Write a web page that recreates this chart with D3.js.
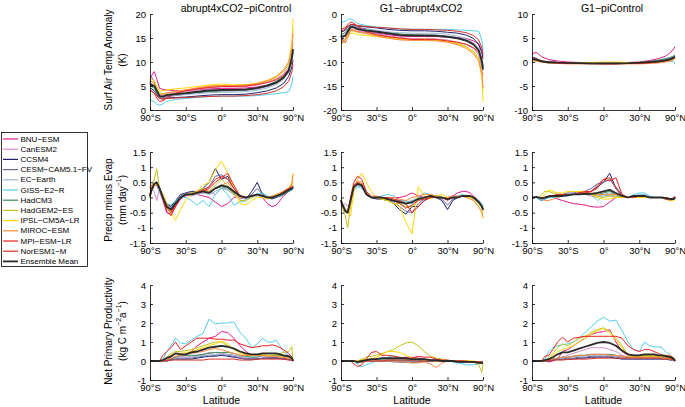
<!DOCTYPE html>
<html><head><meta charset="utf-8">
<script src="https://cdn.jsdelivr.net/npm/d3@7"></script>
<style>body{margin:0;background:#fff}svg text{font-family:"Liberation Sans",Arial,Helvetica,sans-serif;fill:#000}</style>
</head><body><svg id="c" width="685" height="407"></svg>
<script>
const models = ["BNU\u2212ESM","CanESM2","CCSM4","CESM\u2212CAM5.1\u2212FV","EC\u2212Earth","GISS\u2212E2\u2212R","HadCM3","HadGEM2\u2212ES","IPSL\u2212CM5A\u2212LR","MIROC\u2212ESM","MPI\u2212ESM\u2212LR","NorESM1\u2212M","Ensemble Mean"];
const colors = ["#e6198a","#d58ac8","#1f1f6e","#6a6aa8","#9ab8cc","#50d0e8","#3a8a5a","#c4c21a","#ffd800","#ff8a40","#ee2020","#d8302a","#2a2a2a"];
const titles = ["abrupt4xCO2\u2212piControl","G1\u2212abrupt4xCO2","G1\u2212piControl"];
const xTickLats = [-90,-30,0,30,90];
const xTickLabels = ["90\u00b0S","30\u00b0S","0\u00b0","30\u00b0N","90\u00b0N"];
const latT = [-90,-80,-70,-65,-60,-55,-50,-40,-30,-20,-10,0,10,20,30,40,50,60,70,80,90];
const latP = [-90,-80,-70,-65,-60,-55,-50,-45,-40,-35,-30,-25,-20,-15,-10,-5,0,5,10,15,20,25,30,35,40,45,50,55,60,70,80,90];

// Surface air temperature anomaly (K)
const tasA = [
[6.5,7,8,6.5,4.5,4.3,4.2,4.0,4.0,4.2,4.4,4.5,4.5,4.6,4.8,5.2,5.8,6.8,8.2,10.5,12],
[5.5,5.5,5,4,3,3,3.3,3.5,3.8,4.2,4.6,4.8,4.8,4.9,5.2,5.8,6.5,7.5,9,12,14],
[4.5,4.5,4,3.2,2.4,2.3,2.5,2.6,2.7,2.9,3.1,3.2,3.2,3.3,3.6,4.0,4.6,5.5,7,9,10.5],
[5.5,7,6,4,2.6,2.5,2.8,3.0,3.3,3.6,3.8,4.0,4.0,4.1,4.4,4.9,5.6,6.6,8,10.5,12],
[5.5,5.5,5,4,3,2.8,3,3.1,3.2,3.4,3.6,3.7,3.7,3.8,4.1,4.6,5.3,6.3,7.8,10,11.5],
[2.2,2,1.7,1.2,1.0,1.3,1.8,2.2,2.4,2.6,2.8,2.9,2.9,2.9,3.0,3.2,3.4,3.6,3.8,5.5,7],
[5,5,4.5,3.6,2.8,2.8,3.1,3.3,3.5,3.7,3.9,4.0,4.1,4.2,4.6,5.2,6,7,8.5,11,12.5],
[6,6,5.5,4.5,3.5,3.4,3.6,3.8,4.1,4.5,4.9,5.1,5.1,5.2,5.5,6,6.8,8,9.5,13,17],
[6.5,6.5,6,5,4,4,4.2,4.4,4.6,4.9,5.2,5.4,5.2,5.3,5.6,6.2,7,8.2,10,14,19],
[6,6,5.5,4.2,3.2,3.2,3.5,3.8,4.2,4.6,5.0,5.1,5.1,5.2,5.5,6.1,7,8.3,10,13,16],
[4,4,3.5,2.5,1.8,1.9,2.5,3.5,4.0,4.4,4.7,4.9,4.9,5.0,5.3,5.7,6.3,7.2,8.5,10,10],
[4,4,3.5,3,2.4,2.3,2.4,2.5,2.6,2.7,2.8,2.9,2.9,3.0,3.2,3.5,4.0,4.8,6,8,9.5],
[5.1,5.3,5.0,4.1,2.9,2.8,3.1,3.3,3.5,3.8,4.1,4.2,4.2,4.3,4.6,5.1,5.7,6.7,8.2,10.9,12.7]];
const tasG = [
[-5,-5.2,-6,-4.9,-3.4,-3.5,-3.7,-3.8,-4,-4.3,-4.6,-4.7,-4.7,-4.7,-4.8,-4.9,-5.1,-5.6,-6.2,-7.7,-8.8],
[-4.9,-4.9,-4.5,-3.7,-2.9,-3,-3.4,-3.7,-4.1,-4.5,-4.9,-5.1,-5.1,-5.2,-5.4,-5.9,-6.4,-7.2,-8.5,-11.2,-13],
[-3.7,-3.7,-3.4,-2.8,-2.2,-2.2,-2.5,-2.7,-2.9,-3.2,-3.4,-3.5,-3.5,-3.6,-3.8,-4.0,-4.4,-5.1,-6.4,-8.1,-9.4],
[-4.5,-6,-5.2,-3.5,-2.3,-2.4,-2.8,-3.1,-3.5,-3.9,-4.2,-4.4,-4.4,-4.4,-4.6,-4.9,-5.4,-6.1,-7.2,-9.4,-10.7],
[-5,-5,-4.6,-3.7,-2.9,-2.8,-3.1,-3.3,-3.4,-3.7,-3.9,-4,-4,-4,-4.2,-4.6,-5.2,-6,-7.3,-9.3,-10.7],
[-1.9,-1.7,-1.5,-1.1,-1,-1.4,-2,-2.4,-2.7,-2.9,-3.1,-3.2,-3.2,-3.2,-3.2,-3.3,-3.4,-3.5,-3.6,-5.5,-7.5],
[-4.2,-4.2,-3.9,-3.2,-2.6,-2.7,-3.1,-3.4,-3.7,-3.9,-4.2,-4.3,-4.4,-4.4,-4.7,-5.1,-5.6,-6.3,-7.5,-9.7,-11],
[-5.6,-5.6,-5.2,-4.3,-3.5,-3.5,-3.8,-4,-4.4,-4.8,-5.2,-5.4,-5.4,-5.5,-5.7,-6.1,-6.8,-7.8,-9.1,-12.3,-16.1],
[-6.3,-6.2,-5.8,-4.9,-4,-4,-4.3,-4.5,-4.7,-5,-5.3,-5.4,-5.2,-5.4,-5.7,-6.2,-6.9,-8,-9.6,-13.4,-18.2],
[-5.7,-5.7,-5.3,-4.1,-3.2,-3.3,-3.7,-4.1,-4.6,-5,-5.4,-5.5,-5.5,-5.6,-5.9,-6.4,-7.2,-8.3,-9.8,-12.5,-15.3],
[-3.5,-3.5,-3.1,-2.2,-1.7,-1.9,-2.6,-3.7,-4.3,-4.7,-5,-5.3,-5.3,-5.3,-5.6,-5.9,-6.3,-7,-8,-9.2,-9],
[-3.1,-3.1,-2.8,-2.6,-2.2,-2.2,-2.4,-2.6,-2.8,-2.9,-3.1,-3.2,-3.2,-3.3,-3.4,-3.6,-3.9,-4.5,-5.4,-7.1,-8.4],
[-4.5,-4.7,-4.5,-3.7,-2.75,-2.75,-3.15,-3.45,-3.7,-4.05,-4.4,-4.5,-4.5,-4.55,-4.75,-5.1,-5.55,-6.35,-7.6,-10,-11.6]];
const tasP = [
[1.5,1.8,2,1.6,1.1,0.8,0.5,0.2,0,-0.1,-0.2,-0.2,-0.2,-0.1,0,0.3,0.7,1.2,2,2.8,3.2],
[0.6,0.6,0.5,0.3,0.1,0,-0.1,-0.2,-0.3,-0.3,-0.3,-0.3,-0.3,-0.3,-0.2,-0.1,0.1,0.3,0.5,0.8,1.0],
[0.8,0.8,0.6,0.4,0.2,0.1,0,-0.1,-0.2,-0.3,-0.3,-0.3,-0.3,-0.3,-0.2,0,0.2,0.4,0.6,0.9,1.1],
[1.0,1.0,0.8,0.5,0.3,0.1,0,-0.1,-0.2,-0.3,-0.4,-0.4,-0.4,-0.3,-0.2,0,0.2,0.5,0.8,1.1,1.3],
[0.5,0.5,0.4,0.3,0.1,0,-0.1,-0.2,-0.2,-0.3,-0.3,-0.3,-0.3,-0.2,-0.1,0,0.1,0.3,0.5,0.7,0.8],
[0.3,0.3,0.2,0.1,0,-0.1,-0.2,-0.2,-0.3,-0.3,-0.3,-0.3,-0.3,-0.3,-0.2,-0.1,0,0.1,0.2,0,-0.5],
[0.8,0.8,0.6,0.4,0.2,0.1,0,-0.1,-0.2,-0.2,-0.3,-0.3,-0.3,-0.2,-0.1,0.1,0.4,0.7,1.0,1.3,1.5],
[0.4,0.4,0.3,0.2,0,-0.1,-0.2,-0.2,-0.3,-0.3,-0.3,-0.3,-0.3,-0.3,-0.2,-0.1,0,0.2,0.4,0.7,0.9],
[0.2,0.3,0.2,0.1,0,0,-0.1,-0.1,-0.1,-0.1,-0.1,0,0,-0.1,-0.1,0,0.1,0.2,0.4,0.6,0.8],
[0.3,0.3,0.2,0.1,0,-0.1,-0.2,-0.3,-0.4,-0.4,-0.4,-0.4,-0.4,-0.4,-0.4,-0.3,-0.2,0,0.2,0.5,0.7],
[0.5,0.5,0.4,0.3,0.1,0,-0.1,-0.2,-0.3,-0.3,-0.3,-0.4,-0.4,-0.3,-0.3,-0.2,0,0.2,0.5,0.8,1.0],
[0.9,0.9,0.7,0.4,0.2,0.1,0,-0.1,-0.2,-0.2,-0.3,-0.3,-0.3,-0.3,-0.2,-0.1,0.1,0.3,0.6,0.9,1.1],
[0.6,0.6,0.5,0.35,0.15,0.05,-0.05,-0.15,-0.2,-0.25,-0.3,-0.3,-0.3,-0.25,-0.15,0,0.15,0.35,0.6,0.9,1.1]];

// Precipitation minus evaporation (mm/day)
const peA = [
[0.3,0.4,0.45,0.4,0.2,-0.1,-0.5,-0.55,-0.3,-0.05,0.05,0.1,0.1,0.05,0,-0.15,-0.3,-0.2,0,0.05,0,0.05,0.1,0,-0.2,-0.3,-0.25,-0.1,0.05,0.2,0.3,0.35],
[0.1,0.3,0.2,-0.1,0.3,0.1,-0.2,-0.4,-0.2,0,0.1,0.05,0.1,0.15,0.2,0.1,0.3,0.25,0.1,-0.05,0,0.05,0.1,0.05,0,0,0.05,0.1,0.1,0.2,0.3,0.3],
[0,0.2,0.45,0.5,0.3,0.05,-0.2,-0.3,-0.1,0.1,0.15,0.2,0.2,0.3,0.5,0.95,0.6,0.7,0.3,0,-0.05,0.2,0.5,0.1,0,-0.05,0,0.05,0.1,0.2,0.25,0.3],
[0,0.2,0.4,0.45,0.3,0,-0.25,-0.35,-0.15,0.05,0.15,0.15,0.2,0.25,0.35,0.7,0.75,0.6,0.3,0.05,0,0.1,0.3,0.1,0,0,0.05,0.05,0.1,0.2,0.3,0.35],
[0.1,0.2,0.4,0.45,0.25,0,-0.3,-0.35,-0.15,0,0.1,0.1,0.1,0.15,0.1,0.2,0.3,0.25,0.1,0,-0.05,0,0.05,0.05,0,0,0.05,0.1,0.15,0.25,0.3,0.3],
[0.1,0.3,0.4,0.45,0.2,-0.05,-0.2,-0.25,-0.1,0,0,-0.1,-0.25,-0.1,-0.3,0.1,0.3,0.1,-0.25,-0.15,-0.1,0.05,0.1,0.15,0.05,0,0.05,0.1,0.15,0.2,0.25,0.3],
[0,0.2,0.45,0.5,0.3,0,-0.3,-0.4,-0.15,0,0.1,0.1,0.15,0.2,0.15,0.3,0.35,0.3,0.15,0.05,0,0.05,0.1,0.05,0,0,0.05,0.05,0.1,0.2,0.3,0.35],
[0.1,0.3,0.6,0.95,0.3,0,-0.35,-0.5,-0.2,0,0.1,0.15,0.2,0.3,0.2,0.4,0.6,0.4,0.1,-0.1,-0.1,0,0.1,0.05,0,0,0.05,0.1,0.2,0.3,0.4,0.5],
[0,0.2,0.4,0.45,0.3,0.1,-0.2,-0.5,-0.75,-0.4,-0.1,0.1,0.2,0.4,0.5,0.9,1.2,0.8,0.3,-0.2,-0.25,-0.1,0,0,-0.05,0,0.1,0.15,0.2,0.3,0.5,0.8],
[0.05,0.25,0.4,0.45,0.3,0,-0.3,-0.45,-0.25,0,0.1,0.1,0.2,0.25,0.2,0.3,0.4,0.5,0.2,0,0,0.05,0.1,0.05,0,0.05,0.1,0.15,0.2,0.3,0.45,0.75],
[0.1,0.3,0.45,0.5,0.3,-0.05,-0.45,-0.6,-0.3,0,0.1,0.1,0.15,0.2,0.3,0.5,0.65,0.8,0.4,0.05,0,0.05,0.1,0.05,0,0,0.05,0.1,0.2,0.3,0.35,0.4],
[0.05,0.2,0.45,0.5,0.3,0,-0.35,-0.5,-0.25,0,0.1,0.1,0.15,0.25,0.35,0.6,0.7,0.6,0.3,0.05,0,0.05,0.1,0.05,0,0,0.05,0.1,0.15,0.25,0.3,0.35],
[0.05,0.2,0.45,0.5,0.3,0,-0.3,-0.4,-0.2,0,0.1,0.1,0.15,0.2,0.15,0.3,0.4,0.35,0.2,0.05,0,0.05,0.1,0.05,0,0,0.05,0.1,0.15,0.25,0.3,0.35]];
const peG = [
[-0.2,-0.3,-0.4,-0.5,-0.1,0.3,0.5,0.45,0.15,0,0,0,0,0,0,0.05,0.15,0.05,0,0.05,0.05,0,0,0.05,0.15,0.2,0.2,0.15,0.05,-0.1,-0.3,-0.35],
[-0.1,-0.3,-0.2,-0.3,-0.2,0.3,0.4,0.35,0.1,0,0,0,-0.05,-0.1,-0.15,-0.1,-0.2,-0.05,0,0.05,0,0,-0.05,0,0,0.05,0.05,0.05,0,-0.1,-0.3,-0.4],
[-0.1,-0.2,-0.45,-0.5,-0.1,0.35,0.45,0.4,0.1,0,-0.05,-0.05,-0.1,-0.2,-0.4,-0.55,-0.3,-0.3,-0.1,0,0,-0.1,-0.4,-0.1,0,0.05,0.05,0.05,0,-0.15,-0.3,-0.4],
[-0.1,-0.2,-0.4,-0.45,-0.1,0.3,0.45,0.4,0.1,0,0,-0.05,-0.1,-0.15,-0.3,-0.45,-0.5,-0.2,-0.05,0,0,-0.05,-0.25,-0.05,0,0.05,0.05,0.05,0,-0.15,-0.3,-0.4],
[-0.1,-0.15,-0.4,-0.45,-0.1,0.3,0.4,0.35,0.1,0,0,0,-0.05,-0.1,-0.1,-0.15,-0.1,0,0,0.05,0,0,0,0,0,0.05,0.05,0.05,0,-0.1,-0.25,-0.35],
[-0.1,-0.2,-0.4,-0.45,-0.1,0.25,0.35,0.3,0.1,0,0,0.05,0.1,0.05,-0.1,-0.1,-0.2,0,0.15,0.1,0.05,0,0,0,0.05,0.1,0.05,0.05,0,-0.1,-0.2,-0.3],
[-0.1,-0.2,-0.45,-0.5,-0.1,0.35,0.45,0.4,0.1,0,0,0,-0.05,-0.1,-0.15,-0.2,-0.15,-0.05,0,0.05,0,0,-0.05,0,0,0.05,0.05,0.05,0,-0.15,-0.3,-0.4],
[-0.1,-0.3,-0.6,-1.0,-0.3,0.3,0.5,0.45,0.15,0,0,-0.05,-0.1,-0.2,-0.2,-0.3,-0.3,-0.1,0,0.05,0.05,0,-0.05,0,0,0.05,0.05,0,-0.05,-0.2,-0.35,-0.5],
[-0.05,-0.2,-0.4,-0.45,-0.6,0.2,0.6,0.8,0.5,0.2,0,-0.05,-0.1,-0.2,-0.3,-0.8,-1.2,0.35,0.05,-0.05,0.05,0.1,0,0,0,0.05,0,0,-0.1,-0.3,-0.5,-0.7],
[-0.1,-0.25,-0.4,-0.45,-0.1,0.4,0.55,0.5,0.2,0.05,0.05,0,0,0,-0.05,-0.1,0,0.05,0.1,0.1,0.05,0,0,0.05,0.05,0.05,0,-0.05,-0.1,-0.3,-0.5,-0.65],
[-0.1,-0.25,-0.45,-0.5,0,0.5,0.7,0.6,0.2,0,0,0,0,-0.05,-0.1,-0.2,-0.5,-0.3,-0.1,0,0,0,-0.05,0,0,0.05,0.05,0.05,0,-0.15,-0.3,-0.4],
[-0.1,-0.2,-0.45,-0.5,-0.1,0.4,0.5,0.4,0.1,0,0,0,-0.05,-0.1,-0.2,-0.35,-0.25,-0.1,-0.05,0,0,0,-0.1,0,0,0.05,0.05,0.05,0,-0.15,-0.3,-0.4],
[-0.1,-0.2,-0.45,-0.5,-0.1,0.35,0.45,0.4,0.1,0,0,0,-0.05,-0.1,-0.15,-0.2,-0.15,-0.05,0,0.05,0,0,-0.05,0,0,0.05,0.05,0.05,0,-0.15,-0.3,-0.4]];
const peP = [
[0,0,0,0,0,0,0,0,-0.05,-0.1,-0.15,-0.2,-0.22,-0.25,-0.3,-0.32,-0.3,-0.15,0,0.05,0,0,0,0,0,0,0,0,0,-0.05,0,0.05],
[0,0,0,0,0,0,0.05,0.05,0.05,0.05,0.05,0.1,0.1,0.1,0.05,0,0.1,0.05,0,0,0,0,0,0.05,0,0,0,0,0,-0.05,-0.05,0],
[0,0,0,-0.05,-0.1,-0.05,0,0.05,0.1,0.1,0.1,0.1,0.15,0.15,0.2,0.35,0.5,0.8,0.3,0.05,0,0,0.05,0.05,0,0,0,0,-0.05,-0.05,-0.05,0],
[0,0,0,0,-0.05,0,0.05,0.05,0.1,0.1,0.15,0.15,0.2,0.2,0.3,0.45,0.5,0.6,0.35,0.1,0,0,0.05,0.05,0,0,0,0,-0.05,-0.05,-0.05,0],
[0,0,0,0,0,0,0,0.05,0.05,0.05,0.05,0.1,0.1,0.1,0.1,0.05,0.1,0.15,0.1,0,0,0.05,0.1,0.1,0.05,0,0,0,0,-0.05,-0.05,0],
[0,0,0,-0.05,-0.1,-0.05,0,0,0,0.05,0.05,0.1,0.1,0.15,0.1,-0.1,0.05,0.1,0.05,0.05,0,0.1,0.15,0.15,0.05,0,0,0,0,-0.05,-0.05,0],
[0,0,0,0,0,0,0.05,0.05,0.05,0.05,0.1,0.1,0.1,0.1,0.1,0.1,0.15,0.2,0.1,0.05,0,0.05,0.05,0.05,0,0,0,0,0,-0.05,-0.05,0],
[0,0,0,0,0.1,0.2,0.2,0.15,0.1,0.1,0.1,0.1,0.15,0.15,0.1,0.05,0,0.05,0.05,0,0,0,0.05,0,0,0,0,0,-0.05,-0.1,-0.05,0],
[0,0,0,0,0,0.1,0.25,0.2,0.15,0.15,0.2,0.2,0.2,0.2,0.1,0,-0.05,-0.05,0,0,0,0,0,0,0,0,0,0,-0.05,-0.1,-0.1,0],
[0,0,0,0,0,-0.1,-0.1,-0.05,0,0.05,0.1,0.1,0.1,0.15,0.15,0.1,0.1,0.1,0.1,0.05,0,0.05,0.05,0.05,0,0,0,0,-0.05,-0.1,-0.05,0],
[0,0,0,0,0,0,0.05,0.05,0.1,0.1,0.1,0.1,0.15,0.2,0.2,0.3,0.6,0.55,0.65,0.1,0,0,0.05,0.05,0,0,0,0,0,-0.05,-0.05,0],
[0,0,0,0,0,0,0.05,0.05,0.1,0.1,0.1,0.1,0.15,0.15,0.2,0.4,0.6,0.65,0.3,0.05,0,0,0.05,0.05,0,0,0,0,-0.05,-0.05,-0.05,0],
[0,0,0.02,0,-0.03,0,0.03,0.05,0.05,0.05,0.08,0.1,0.1,0.12,0.12,0.15,0.2,0.25,0.15,0.05,0,0.05,0.05,0.05,0,0,0,0,-0.02,-0.05,-0.05,0]];

// Net primary productivity (kg C m-2 a-1)
const nppA = [
[0,0,0,0,0,0,0.05,0.2,0.4,0.4,0.3,0.5,0.8,1.0,1.2,1.3,1.55,1.5,1.2,0.8,0.5,0.3,0.3,0.3,0.25,0.2,0.2,0.2,0.15,0.1,0.05,0],
[0,0,0,0,0,0,0.05,0.1,0.2,0.25,0.2,0.25,0.3,0.35,0.45,0.45,0.4,0.35,0.3,0.2,0.15,0.1,0.1,0.15,0.15,0.15,0.15,0.1,0.1,0.05,0.05,0],
[0,0,0,0,0,0,0,0.05,0.1,0.1,0.1,0.1,0.15,0.2,0.25,0.25,0.3,0.25,0.2,0.15,0.1,0.1,0.1,0.15,0.15,0.15,0.15,0.15,0.1,0.1,0.05,0],
[0,0,0,0,0,0,0,0.05,0.1,0.15,0.15,0.15,0.2,0.25,0.3,0.3,0.35,0.3,0.25,0.15,0.1,0.1,0.1,0.15,0.15,0.2,0.2,0.15,0.1,0.1,0.05,0],
[0,0,0,0,0,0,0.05,0.1,0.2,0.2,0.2,0.2,0.25,0.3,0.3,0.35,0.35,0.35,0.3,0.25,0.2,0.2,0.2,0.25,0.25,0.25,0.25,0.2,0.2,0.15,0.1,0],
[0,0,0,0,0,0.1,0.5,0.8,1.2,0.95,0.9,1.1,1.3,1.45,2.2,1.95,2.0,2.0,2.05,1.5,1.2,0.7,0.9,1.2,1.0,1.0,1.1,0.8,0.5,0.3,0.1,0],
[0,0,0,0,0,0,0.05,0.1,0.2,0.3,0.3,0.3,0.3,0.35,0.4,0.45,0.45,0.45,0.4,0.3,0.25,0.2,0.2,0.3,0.3,0.3,0.3,0.3,0.25,0.2,0.15,0],
[0,0,0,0,0,0,0.2,0.4,0.5,0.5,0.55,0.6,0.7,0.8,0.9,1.0,1.0,0.8,0.65,0.5,0.35,0.3,0.3,0.35,0.3,0.3,0.35,0.4,0.45,0.5,0.75,0],
[0,0,0,0,0,0,0.1,0.3,0.4,0.4,0.45,0.5,0.6,0.7,0.8,0.9,1.05,0.9,0.6,0.4,0.3,0.3,0.3,0.3,0.3,0.25,0.25,0.25,0.2,0.15,0.1,0],
[0,0,0,0,0,0,0.05,0.15,0.25,0.3,0.35,0.4,0.45,0.5,0.6,0.65,0.6,0.5,0.4,0.3,0.3,0.3,0.3,0.3,0.25,0.25,0.25,0.2,0.2,0.15,0.1,0],
[0,0,0,0,0,0.3,0.5,0.7,1.0,0.6,0.8,1.0,1.2,1.2,1.2,1.15,1.15,1.1,1.1,0.9,0.8,0.7,0.75,0.8,0.8,0.85,0.8,0.7,0.6,0.4,0.2,0],
[0,0,0,0,0,0,0.02,0.05,0.05,0.05,0.05,0.05,0.05,0.05,0.1,0.1,0.1,0.1,0.1,0.05,0.05,0.05,0.1,0.1,0.1,0.1,0.1,0.1,0.1,0.05,0.05,0],
[0,0,0,0,0,0.05,0.15,0.25,0.4,0.35,0.35,0.45,0.5,0.6,0.7,0.75,0.8,0.75,0.65,0.5,0.4,0.35,0.35,0.4,0.4,0.4,0.4,0.35,0.3,0.25,0.15,0]];
const nppG = [
[0,0,0,0,0,0,-0.05,0,0.05,0.05,0.1,0.1,0.1,0.1,0.15,0.2,0.2,0.15,0.1,0.05,0.05,0,0,0,0,-0.05,-0.05,-0.05,-0.05,-0.05,-0.05,-0.05],
[0,0,0,0,0,0,-0.05,0,0,0.05,0.05,0.05,0.05,0.05,0.1,0.1,0.05,0.05,0.05,0.05,0,0,0,0,-0.05,-0.05,-0.05,-0.05,-0.05,-0.05,-0.05,-0.05],
[0,0,0,0,0,0,-0.1,-0.05,0,0,0,0,0,0,-0.05,-0.05,-0.05,-0.05,0,0,0,0,0,0,0,-0.05,-0.05,-0.05,-0.05,-0.05,-0.05,-0.05],
[0,0,0,0,0,0,-0.1,-0.05,0,0,0,0,0,-0.05,-0.05,-0.05,-0.1,-0.05,0,0,0,0,0,0,0,-0.05,-0.05,-0.05,-0.05,-0.05,-0.05,-0.05],
[0,0,0,0,0,0,-0.05,0,0,0.05,0.05,0.05,0.05,0.05,0.05,0.05,0.05,0.05,0.05,0.05,0,0,0,0,0,0,0,-0.05,-0.05,-0.05,-0.05,-0.05],
[0,0,0,0,0,0,-0.2,-0.3,-0.2,-0.1,0,0.1,0.2,0.3,0.1,0,-0.05,0,0.05,0.05,0,0,0,-0.05,-0.1,-0.15,-0.2,-0.2,-0.2,-0.15,-0.1,-0.05],
[0,0,0,0,0,0,-0.05,0,0,0.05,0.05,0.05,0.05,0.05,0.05,0.05,0.05,0.05,0.05,0.05,0,0,0,0,0,0,0,-0.05,-0.05,-0.05,-0.05,-0.05],
[0,0,0,0,0,0,0,0.1,0.2,0.25,0.3,0.4,0.5,0.6,0.8,0.95,1.0,0.8,0.5,0.25,0.15,0.1,0.05,0,0,0,0,0,-0.05,-0.2,-0.6,-0.1],
[0,0,0,0,0,0,0,0.05,0.1,0.1,0.2,0.35,0.5,0.5,0.45,0.3,0.15,0.1,0.05,0.05,0,0,0,0,0,0,0,0,0,-0.05,-0.1,-0.1],
[0,0,0,0,0,0,-0.05,-0.05,0,0,0,0,0,0,-0.05,-0.05,-0.1,-0.1,-0.05,-0.15,-0.35,-0.1,0,0,0,0,-0.05,-0.05,-0.05,-0.1,-0.15,-0.1],
[0,0,0,0,0,-0.15,-0.3,-0.2,0.1,0.45,0.5,0.3,0.3,0.25,0.2,0.1,0.15,0.25,0.2,0.2,0.1,0.05,0.05,0,0,0,-0.05,-0.05,-0.05,-0.05,-0.1,-0.1],
[0,0,0,0,0,0,-0.05,0,0,0,0,0,0.05,0.05,0.05,0.05,0,0,0,0,0,0,0,0,0,0,0,-0.05,-0.05,-0.05,-0.05,-0.05],
[0,0,0,0,0,0,-0.05,0,0.05,0.1,0.1,0.15,0.15,0.15,0.15,0.15,0.1,0.1,0.1,0.05,0.05,0,0,0,-0.05,-0.05,-0.05,-0.05,-0.05,-0.1,-0.1,-0.1]];
const nppP = [
[0,0,0,0,0,0,-0.05,0,0.1,0.5,0.6,0.8,1.0,1.2,1.4,1.5,1.55,1.65,1.0,0.5,0.3,0.3,0.3,0.3,0.3,0.25,0.25,0.2,0.2,0.15,0.05,0],
[0,0,0,0,0,0,0,0.05,0.1,0.2,0.3,0.4,0.5,0.6,0.7,0.7,0.7,0.6,0.5,0.3,0.2,0.15,0.15,0.2,0.2,0.2,0.2,0.15,0.15,0.1,0.05,0],
[0,0,0,0,0,0,0,0.05,0.1,0.1,0.1,0.1,0.15,0.15,0.2,0.2,0.2,0.2,0.15,0.1,0.1,0.1,0.1,0.1,0.1,0.1,0.1,0.1,0.1,0.05,0.05,0],
[0,0,0,0,0,0,0,0.05,0.1,0.1,0.15,0.15,0.2,0.2,0.25,0.25,0.25,0.25,0.2,0.15,0.1,0.1,0.1,0.1,0.1,0.1,0.1,0.1,0.1,0.05,0.05,0],
[0,0,0,0,0,0,0.05,0.1,0.15,0.15,0.2,0.2,0.25,0.25,0.3,0.3,0.3,0.3,0.25,0.2,0.15,0.15,0.15,0.2,0.2,0.2,0.2,0.15,0.15,0.1,0.05,0],
[0,0,0,0,0,0.1,0.5,0.7,0.8,0.85,0.9,1.0,1.2,1.5,1.8,2.1,2.3,2.1,2.15,1.6,1.0,0.6,0.5,1.0,0.8,0.75,0.75,0.7,0.5,0.3,0.1,0],
[0,0,0,0,0,0,0.05,0.1,0.15,0.2,0.2,0.25,0.3,0.3,0.35,0.35,0.35,0.35,0.3,0.25,0.2,0.2,0.2,0.25,0.25,0.25,0.25,0.2,0.2,0.15,0.1,0],
[0,0,0,0,0,0,0.2,0.4,0.7,0.9,0.8,1.0,1.2,1.3,1.5,1.65,1.75,1.55,1.2,0.8,0.3,0.2,0.25,0.3,0.3,0.3,0.3,0.3,0.3,0.25,0.15,0],
[0,0,0,0,0,0,0.1,0.3,0.5,0.6,0.7,0.8,1.0,1.2,1.4,1.6,1.7,1.5,1.1,0.7,0.3,0.2,0.2,0.25,0.25,0.25,0.25,0.25,0.2,0.15,0.1,0],
[0,0,0,0,0,0,0.05,0.1,0.15,0.2,0.2,0.25,0.3,0.3,0.35,0.35,0.35,0.3,0.3,0.25,0.2,0.2,0.2,0.2,0.2,0.2,0.2,0.15,0.15,0.1,0.05,0],
[0,0,0,0,0,0.25,0.3,0.6,1.0,1.25,1.0,1.2,1.25,1.3,1.3,1.3,1.3,1.3,1.3,1.2,0.8,0.6,0.5,0.6,0.6,0.5,0.4,0.3,0.3,0.25,0.15,0],
[0,0,0,0,0,0,0.02,0.05,0.05,0.05,0.08,0.1,0.1,0.1,0.12,0.15,0.15,0.15,0.15,0.15,0.15,0.15,0.15,0.15,0.15,0.15,0.15,0.1,0.1,0.1,0.05,0],
[0,0,0,0,0,0.05,0.1,0.2,0.35,0.45,0.45,0.55,0.65,0.75,0.85,0.95,1.0,0.95,0.8,0.55,0.35,0.3,0.3,0.35,0.35,0.35,0.3,0.3,0.25,0.2,0.1,0]];

const yTicksT = [[0,5,10,15,20],[-20,-15,-10,-5,0],[-10,-5,0,5,10]];
const yTicksP = [-1.5,-1,-0.5,0,0.5,1,1.5];
const yTicksN = [-1,0,1,2,3,4];

// ---------- layout ----------
const svg = d3.select("#c");
const colX = [[150,293],[341,483],[532,675]];
const rowY = [[14,110],[152,243],[285,380]];
const panels = [
 {r:0,c:0,lat:latT,data:tasA,dom:[0,20],ticks:yTicksT[0]},
 {r:0,c:1,lat:latT,data:tasG,dom:[-20,0],ticks:yTicksT[1]},
 {r:0,c:2,lat:latT,data:tasP,dom:[-10,10],ticks:yTicksT[2]},
 {r:1,c:0,lat:latP,data:peA,dom:[-1.5,1.5],ticks:yTicksP},
 {r:1,c:1,lat:latP,data:peG,dom:[-1.5,1.5],ticks:yTicksP},
 {r:1,c:2,lat:latP,data:peP,dom:[-1.5,1.5],ticks:yTicksP},
 {r:2,c:0,lat:latP,data:nppA,dom:[-1,4],ticks:yTicksN},
 {r:2,c:1,lat:latP,data:nppG,dom:[-1,4],ticks:yTicksN},
 {r:2,c:2,lat:latP,data:nppP,dom:[-1,4],ticks:yTicksN}];
const s = d => Math.sin(d*Math.PI/180);
const fmt = v => String(v);

panels.forEach(p => {
  const [x0,x1] = colX[p.c], [y0,y1] = rowY[p.r];
  const x = d3.scaleLinear().domain([-1,1]).range([x0,x1]);
  const y = d3.scaleLinear().domain(p.dom).range([y1,y0]);
  const g = svg.append("g");
  const line = d3.line().x((v,i)=>x(s(p.lat[i]))).y(v=>y(v));
  p.data.forEach((row,i) => {
    g.append("path").attr("d", line(row)).attr("fill","none")
     .attr("stroke", colors[i]).attr("stroke-width", i===12?1.8:1)
     .attr("stroke-linejoin","round");
  });
  const ax = svg.append("g").attr("transform",`translate(${x0},0)`)
    .call(d3.axisLeft(y).tickValues(p.ticks).tickFormat(fmt).tickSizeInner(-3).tickSizeOuter(0).tickPadding(4));
  const bx = svg.append("g").attr("transform",`translate(0,${y1})`)
    .call(d3.axisBottom(x).tickValues(xTickLats.map(s)).tickFormat((d,i)=>xTickLabels[i]).tickSizeInner(-3).tickSizeOuter(0).tickPadding(4));
  [ax,bx].forEach(a => {
    a.selectAll("text").style("font-size","9.5px");
    a.selectAll("path,line").attr("stroke","#000").attr("stroke-width",0.8);
  });
});

// titles
const titleX = [236,421,612];
titles.forEach((t,i) => svg.append("text").attr("x",titleX[i]).attr("y",12)
  .attr("text-anchor","middle").style("font-size","10.5px").text(t));

// x labels
colX.forEach(([a,b]) => svg.append("text").attr("x",(a+b)/2).attr("y",404)
  .attr("text-anchor","middle").style("font-size","10.5px").text("Latitude"));

// y labels
function ylab(cy, l1, l2parts){
  const t1 = svg.append("text").attr("transform",`translate(108,${cy}) rotate(-90)`)
    .attr("text-anchor","middle").attr("dominant-baseline","central").style("font-size","10px").text(l1);
  const t2 = svg.append("text").attr("transform",`translate(122,${cy}) rotate(-90)`)
    .attr("text-anchor","middle").attr("dominant-baseline","central").style("font-size","10px");
  l2parts.forEach(([txt,sup]) => {
    const ts = t2.append("tspan").text(txt);
    if (sup) ts.attr("baseline-shift","super").style("font-size","7px");
  });
}
ylab(60, "Surf Air Temp Anomaly", [["(K)",false]]);
ylab(200, "Precip minus Evap", [["(mm day",false],["\u22121",true],[")",false]]);
ylab(331, "Net Primary Productivity", [["(kg C m",false],["\u22122",true],["a",false],["\u22121",true],[")",false]]);

// legend
const lg = svg.append("g");
lg.append("rect").attr("x",1.5).attr("y",132.5).attr("width",86).attr("height",134)
  .attr("fill","#fff").attr("stroke","#000").attr("stroke-width",0.8);
models.forEach((m,i) => {
  const yy = 139 + i*10.2;
  lg.append("line").attr("x1",3).attr("x2",18).attr("y1",yy).attr("y2",yy)
    .attr("stroke",colors[i]).attr("stroke-width",i===12?1.8:1.2);
  lg.append("text").attr("x",20.5).attr("y",yy).attr("dominant-baseline","central")
    .style("font-size","8px").text(m);
});
</script></body></html>
